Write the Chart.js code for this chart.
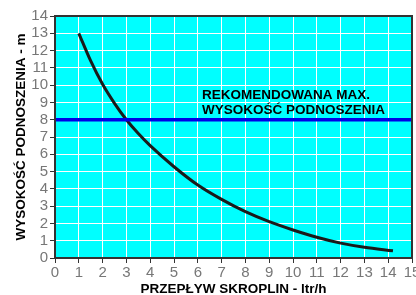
<!DOCTYPE html>
<html>
<head>
<meta charset="utf-8">
<script src="https://cdn.jsdelivr.net/npm/chart.js@4/dist/chart.umd.min.js"></script>
<style>
html,body{margin:0;padding:0;background:#fff;}
#wrap{width:416px;height:295px;}
</style>
</head>
<body>
<div id="wrap"><canvas id="c" width="416" height="295"></canvas></div>
<script>
// ---- data ----
const flowX = [1, 1.5, 2, 2.5, 3, 3.5, 4, 5, 6, 7, 8, 9, 10, 11, 12, 13, 14.2];
const liftY = [13, 11.4, 10.05, 8.95, 8.0, 7.2, 6.5, 5.28, 4.22, 3.39, 2.68, 2.1, 1.62, 1.2, 0.86, 0.62, 0.42];
const recX = [0, 15];
const recY = [8, 8];
const xTitle = 'PRZEPŁYW SKROPLIN - ltr/h';
const yTitle = 'WYSOKOŚĆ PODNOSZENIA - m';
const noteLines = ['REKOMENDOWANA MAX.', 'WYSOKOŚĆ PODNOSZENIA'];

const FONT = '"Liberation Sans", Arial, Helvetica, sans-serif';

const bgPlugin = {
  id: 'bg',
  beforeDraw(chart) {
    const {ctx, chartArea: a} = chart;
    ctx.save();
    ctx.fillStyle = '#00FFFF';
    ctx.fillRect(a.left, a.top, a.right - a.left, a.bottom - a.top);
    ctx.restore();
  },
  afterDatasetsDraw(chart) {
    const {ctx, chartArea: a, scales} = chart;
    ctx.save();
    // note text
    ctx.fillStyle = '#000';
    ctx.font = 'bold 13.5px ' + FONT;
    ctx.textAlign = 'left';
    ctx.textBaseline = 'alphabetic';
    const tx = scales.x.getPixelForValue(6.18);
    ctx.fillText(noteLines[0], tx, scales.y.getPixelForValue(9.2));
    ctx.fillText(noteLines[1], tx, scales.y.getPixelForValue(8.33));
    // frame
    ctx.strokeStyle = '#333';
    ctx.lineWidth = 2;
    ctx.beginPath();
    ctx.moveTo(a.left, a.top);
    ctx.lineTo(a.right, a.top);
    ctx.lineTo(a.right, a.bottom);
    ctx.stroke();
    ctx.beginPath();
    ctx.moveTo(a.left, a.top - 1);
    ctx.lineTo(a.left, a.bottom);
    ctx.lineTo(a.right + 1, a.bottom);
    ctx.stroke();
    ctx.restore();
  }
};

new Chart(document.getElementById('c'), {
  type: 'line',
  data: {
    datasets: [
      {
        data: recX.map((x, i) => ({x, y: recY[i]})),
        borderColor: '#0000E6',
        borderWidth: 3.5,
        pointRadius: 0,
        tension: 0
      },
      {
        data: flowX.map((x, i) => ({x, y: liftY[i]})),
        borderColor: '#1a1a1a',
        borderWidth: 3,
        pointRadius: 0,
        cubicInterpolationMode: 'monotone'
      }
    ]
  },
  plugins: [bgPlugin],
  options: {
    responsive: false,
    devicePixelRatio: 1,
    animation: false,
    layout: {padding: {top: 16, right: 4, left: 0, bottom: 0}},
    plugins: {legend: {display: false}, tooltip: {enabled: false}},
    scales: {
      x: {
        type: 'linear',
        min: 0, max: 15,
        afterFit(s) { s.height = 37; s.paddingLeft = 0; s.paddingRight = 0; },
        ticks: {
          stepSize: 1, autoSkip: false, maxRotation: 0, padding: 1,
          color: '#777', font: {family: FONT, size: 15}
        },
        grid: {color: '#ffffff', lineWidth: 1, tickColor: '#333', tickLength: 5},
        border: {display: false},
        title: {
          display: true, text: xTitle, color: '#000',
          font: {family: FONT, size: 13.5, weight: 'bold', lineHeight: 1.2},
          padding: {top: 0, bottom: -2}
        }
      },
      y: {
        min: 0, max: 14,
        afterFit(s) { s.width = 55; s.paddingTop = 0; s.paddingBottom = 0; },
        ticks: {
          stepSize: 1, autoSkip: false, padding: 2,
          color: '#777', font: {family: FONT, size: 15}
        },
        grid: {color: '#ffffff', lineWidth: 1, tickColor: '#333', tickLength: 5},
        border: {display: false},
        title: {
          display: true, text: yTitle, color: '#000',
          font: {family: FONT, size: 13.5, weight: 'bold', lineHeight: 1.2},
          padding: {top: 13, bottom: 0}
        }
      }
    }
  }
});
</script>
</body>
</html>
